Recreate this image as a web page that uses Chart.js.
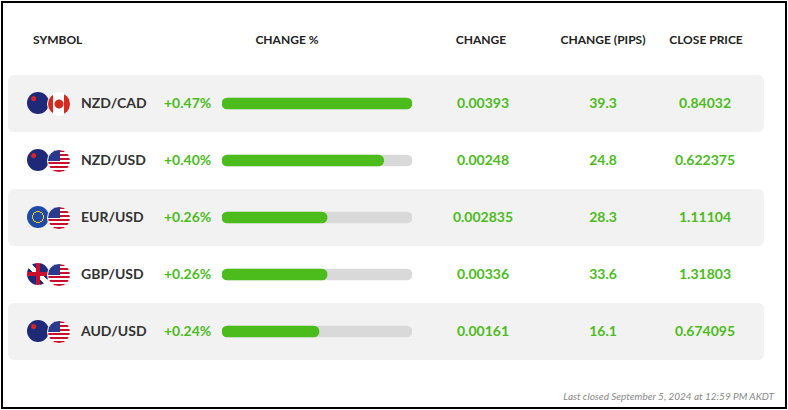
<!DOCTYPE html>
<html>
<head>
<meta charset="utf-8">
<script src="https://cdn.jsdelivr.net/npm/chart.js@4/dist/chart.umd.min.js"></script>
<style>
  body { margin: 0; width: 788px; height: 410px; background: #fff; font-family: Lato, "Open Sans", sans-serif; }
  #frame { position: absolute; left: 1px; top: 1px; width: 782px; height: 404px; border: 2px solid #000; }
  .hdr { position: absolute; top: 32px; font-size: 12px; font-weight: 700; color: #222; }
  .row { position: absolute; left: 8px; width: 756px; height: 57px; border-radius: 6px; }
  .cell { position: absolute; font-size: 14px; font-weight: 700; }
  .sym { color: #333; }
  .g { color: #4cbb1c; }
  .c { transform: translateX(-50%); }
  .flag { position: absolute; width: 22px; height: 22px; border-radius: 50%; }
  #chartBox { position: absolute; left: 218px; top: 75px; width: 198px; height: 285px; }
  #note { position: absolute; right: 14px; top: 390px; font-size: 10px; font-style: italic; color: #888; }
</style>
</head>
<body>
<div id="frame"></div>
<div id="rows"></div>
<div class="hdr" style="left:33px">SYMBOL</div>
<div class="hdr c" style="left:287px">CHANGE %</div>
<div class="hdr c" style="left:481px">CHANGE</div>
<div class="hdr c" style="left:603px">CHANGE (PIPS)</div>
<div class="hdr c" style="left:706px">CLOSE PRICE</div>
<div id="chartBox"><canvas id="bars"></canvas></div>
<div id="note">Last closed September 5, 2024 at 12:59 PM AKDT</div>
<script>
// Table data
const symbols = ['NZD/CAD', 'NZD/USD', 'EUR/USD', 'GBP/USD', 'AUD/USD'];
const changePct = [0.47, 0.40, 0.26, 0.26, 0.24];
const changeVals = ['0.00393', '0.00248', '0.002835', '0.00336', '0.00161'];
const pips = ['39.3', '24.8', '28.3', '33.6', '16.1'];
const closePrices = ['0.84032', '0.622375', '1.11104', '1.31803', '0.674095'];
const flagPairs = [['nz', 'ca'], ['nz', 'us'], ['eu', 'us'], ['gb', 'us'], ['au', 'us']];

const flagStyles = {
  nz: 'background: radial-gradient(circle at 30% 30%, #d22 0 2px, transparent 3px), linear-gradient(#1e2a78, #1e2a78)',
  au: 'background: radial-gradient(circle at 30% 30%, #d22 0 2px, transparent 3px), linear-gradient(#1e2a78, #1e2a78)',
  ca: 'background: radial-gradient(circle at 50% 50%, #d52b1e 0 4px, transparent 5px), linear-gradient(90deg, #d52b1e 0 25%, #fff 25% 75%, #d52b1e 75%)',
  us: 'background: linear-gradient(#2a3a8c 0 50%, transparent 50%) 0 0/55% 100% no-repeat, repeating-linear-gradient(#c8102e 0 2px, #fff 2px 4px)',
  eu: 'background: radial-gradient(circle, transparent 0 5px, #ffcc00 5px 6px, transparent 6px), #1f4aa8',
  gb: 'background: linear-gradient(90deg, transparent 40%, #c8102e 40% 60%, transparent 60%), linear-gradient(transparent 40%, #c8102e 40% 60%, transparent 60%), linear-gradient(45deg, #1e2a78 42%, #fff 42% 58%, #1e2a78 58%)'
};

const rowsEl = document.getElementById('rows');
symbols.forEach((s, i) => {
  const top = 75 + i * 57;
  const mid = top + 28;
  let html = `<div class="row" style="top:${top}px;background:${i % 2 === 0 ? '#f2f2f2' : '#fff'}"></div>`;
  html += `<div class="flag" style="left:27px;top:${mid - 11}px;${flagStyles[flagPairs[i][0]]}"></div>`;
  html += `<div class="flag" style="left:47px;top:${mid - 11}px;border:1px solid #fff;${flagStyles[flagPairs[i][1]]}"></div>`;
  html += `<div class="cell sym" style="left:81px;top:${mid - 9}px">${s}</div>`;
  html += `<div class="cell g" style="left:164px;top:${mid - 9}px">+${changePct[i].toFixed(2)}%</div>`;
  html += `<div class="cell g c" style="left:483px;top:${mid - 9}px">${changeVals[i]}</div>`;
  html += `<div class="cell g c" style="left:603px;top:${mid - 9}px">${pips[i]}</div>`;
  html += `<div class="cell g c" style="left:705px;top:${mid - 9}px">${closePrices[i]}</div>`;
  rowsEl.insertAdjacentHTML('beforeend', html);
});

// Bars
const maxPct = Math.max(...changePct);
new Chart(document.getElementById('bars'), {
  type: 'bar',
  data: {
    labels: symbols,
    datasets: [
      { data: changePct, backgroundColor: '#4cbb1c', borderRadius: 6, borderSkipped: false, barThickness: 11, grouped: false, order: 1 },
      { data: symbols.map(() => maxPct), backgroundColor: '#d9d9d9', borderRadius: 6, borderSkipped: false, barThickness: 11, grouped: false, order: 2 }
    ]
  },
  options: {
    indexAxis: 'y',
    responsive: true,
    maintainAspectRatio: false,
    animation: false,
    layout: { padding: { left: 4, right: 4 } },
    plugins: { legend: { display: false }, tooltip: { enabled: false } },
    scales: {
      x: { display: false, min: 0, max: maxPct },
      y: { display: false }
    }
  }
});
</script>
</body>
</html>
